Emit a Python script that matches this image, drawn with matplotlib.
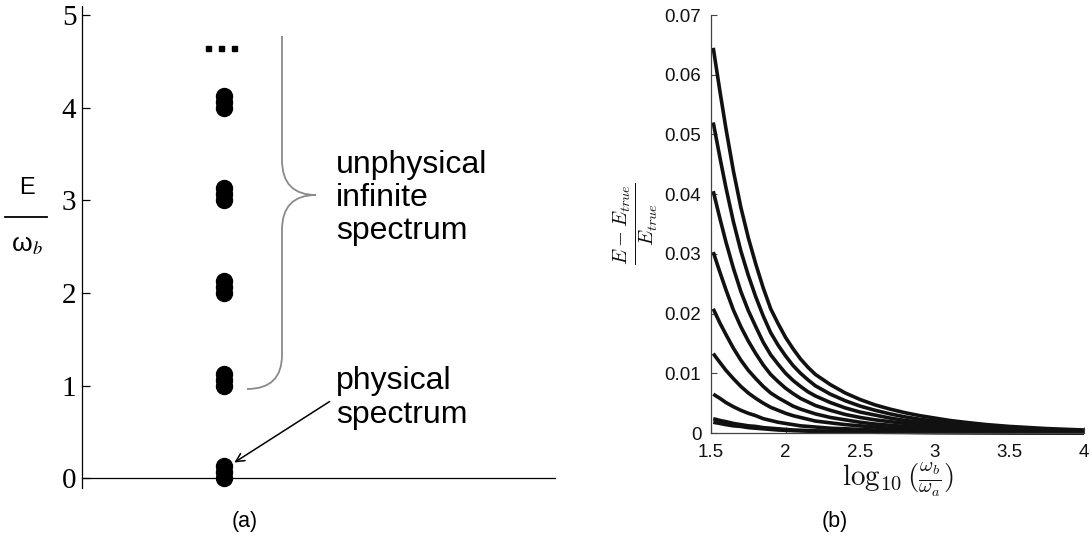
import matplotlib
matplotlib.use("Agg")
import matplotlib.pyplot as plt
from matplotlib.path import Path
from matplotlib.patches import PathPatch, FancyArrowPatch, Rectangle
from matplotlib.transforms import Affine2D

# ---------------- data ----------------
# panel (a): energy levels E/omega_b
level_groups = [0, 1, 2, 3, 4]
level_offsets = [0.0, 0.065, 0.13]
level_x = 0.3
left_yticks = [0, 1, 2, 3, 4, 5]

# panel (b): relative error curves vs log10(omega_b/omega_a)
xb = [1.515, 1.56, 1.6, 1.65, 1.7, 1.75, 1.8, 1.85, 1.9, 1.95, 2.0, 2.05, 2.1, 2.15, 2.2,
      2.3, 2.4, 2.5, 2.6, 2.7, 2.8, 2.9, 3.0, 3.1, 3.2, 3.35, 3.5, 3.75, 4.0]
err_1 = [0.0645, 0.0572, 0.0510, 0.0439, 0.0378, 0.0327, 0.0283, 0.0243, 0.0208, 0.0183, 0.0160,
         0.0141, 0.0124, 0.0110, 0.0098, 0.0081, 0.0067, 0.0056, 0.0047, 0.0040, 0.0034, 0.0029,
         0.0025, 0.0021, 0.0018, 0.0014, 0.0011, 0.00074, 0.0005]
err_2 = [0.0520, 0.0461, 0.0411, 0.0354, 0.0305, 0.0264, 0.0228, 0.0196, 0.0168, 0.0147, 0.0129,
         0.0113, 0.0100, 0.0089, 0.0079, 0.0065, 0.0054, 0.0045, 0.0038, 0.0032, 0.0027, 0.0023,
         0.0020, 0.0017, 0.0015, 0.0011, 0.0009, 0.0006, 0.0004]
err_3 = [0.0405, 0.0359, 0.0320, 0.0276, 0.0237, 0.0205, 0.0178, 0.0152, 0.0131, 0.0115, 0.0100,
         0.0088, 0.0078, 0.0069, 0.0062, 0.0051, 0.0042, 0.0035, 0.0030, 0.0025, 0.0021, 0.0018,
         0.0016, 0.0013, 0.0011, 0.0009, 0.0007, 0.0005, 0.0003]
err_4 = [0.0303, 0.0269, 0.0240, 0.0206, 0.0178, 0.0154, 0.0133, 0.0114, 0.0098, 0.0086, 0.0075,
         0.0066, 0.0058, 0.0052, 0.0046, 0.0038, 0.0031, 0.0026, 0.0022, 0.0019, 0.0016, 0.0014,
         0.0012, 0.0010, 0.0008, 0.0007, 0.0005, 0.00035, 0.00024]
err_5 = [0.0208, 0.0184, 0.0165, 0.0142, 0.0122, 0.0105, 0.0091, 0.0078, 0.0067, 0.0059, 0.0052,
         0.0045, 0.0040, 0.0036, 0.0032, 0.0026, 0.0022, 0.0018, 0.0015, 0.0013, 0.0011, 0.0009,
         0.0008, 0.0007, 0.0006, 0.00045, 0.00036, 0.00024, 0.00016]
err_6 = [0.0133, 0.0118, 0.0105, 0.0091, 0.0078, 0.0067, 0.0058, 0.0050, 0.0043, 0.0038, 0.0033,
         0.0029, 0.0026, 0.0023, 0.0020, 0.0017, 0.0014, 0.0012, 0.0010, 0.0008, 0.0007, 0.0006,
         0.0005, 0.00043, 0.00037, 0.00029, 0.00023, 0.00015, 0.0001]
err_7 = [0.0065, 0.0058, 0.0051, 0.0044, 0.0038, 0.0033, 0.0029, 0.0024, 0.0021, 0.0018, 0.0016,
         0.0014, 0.0012, 0.0011, 0.0010, 0.0008, 0.0007, 0.0006, 0.0005, 0.0004, 0.00034, 0.00029,
         0.00025, 0.00021, 0.00018, 0.00014, 0.00011, 0.000075, 0.00005]
err_8 = [0.0024, 0.0021, 0.0019, 0.0016, 0.0014, 0.0012, 0.0011, 0.0009, 0.0008, 0.0007, 0.0006,
         0.0005, 0.00046, 0.00041, 0.00036, 0.0003, 0.00025, 0.00021, 0.00018, 0.00015, 0.00013,
         0.00011, 0.00009, 0.00008, 0.00007, 0.00005, 0.00004, 0.00003, 0.00002]
err_9 = [0.0018, 0.0016, 0.0014, 0.0012, 0.0011, 0.0009, 0.0008, 0.0007, 0.0006, 0.0005, 0.00045,
         0.00039, 0.00035, 0.00031, 0.00027, 0.00023, 0.00019, 0.00016, 0.00013, 0.00011, 0.0001,
         0.00008, 0.00007, 0.00006, 0.00005, 0.00004, 0.00003, 0.00002, 0.00001]
curves = [err_1, err_2, err_3, err_4, err_5, err_6, err_7, err_8, err_9]
right_xticks = [1.5, 2, 2.5, 3, 3.5, 4]
right_xticklabels = ["1.5", "2", "2.5", "3", "3.5", "4"]
right_yticks = [0, 0.01, 0.02, 0.03, 0.04, 0.05, 0.06, 0.07]
right_yticklabels = ["0", "0.01", "0.02", "0.03", "0.04", "0.05", "0.06", "0.07"]

W, H = 1090, 540
fig = plt.figure(figsize=(W / 100, H / 100), dpi=100)
pix = Affine2D().scale(1 / W, -1 / H).translate(0, 1) + fig.transFigure

def P(x, y):
    return (x / W, 1 - y / H)

# ---------------- panel (a) ----------------
axa = fig.add_axes([82 / W, (H - 487.6) / H, 473 / W, (487.6 - 5.7) / H])
axa.set_xlim(0, 1)
axa.set_ylim(-0.1, 5.1)
for s in ["top", "right"]:
    axa.spines[s].set_visible(False)
axa.spines["bottom"].set_position(("data", 0))
axa.spines["left"].set_linewidth(0.9)
axa.spines["bottom"].set_linewidth(0.9)
axa.set_xticks([])
axa.set_yticks(left_yticks)
axa.set_yticklabels([str(t) for t in left_yticks], family="Liberation Serif", fontsize=21)
axa.tick_params(axis="y", direction="in", length=6, width=0.9, pad=4)

ys = [g + o for g in level_groups for o in level_offsets]
axa.plot([level_x] * len(ys), ys, "o", ms=11.5, color="black", zorder=5, clip_on=False)

# ellipsis
for px in [208.5, 221, 234.5]:
    fig.patches.append(Rectangle((px - 2.5, 45.5), 5, 5, transform=pix, color="black"))

# brace
verts = [(282, 36), (282, 160), (282, 195), (316, 195), (282, 195), (282, 230),
         (282, 355), (282, 389), (247, 389)]
codes = [Path.MOVETO, Path.LINETO, Path.CURVE3, Path.CURVE3, Path.CURVE3, Path.CURVE3,
         Path.LINETO, Path.CURVE3, Path.CURVE3]
fig.patches.append(PathPatch(Path(verts, codes), transform=pix, fill=False,
                             edgecolor="#8a8a8a", lw=1.3))

fig.text(*P(336, 198), "unphysical\ninfinite\nspectrum", family="Liberation Sans",
         fontsize=23, va="center", ha="left", linespacing=1.15)
fig.text(*P(336, 398), "physical\nspectrum", family="Liberation Sans",
         fontsize=23, va="center", ha="left", linespacing=1.15)

arr = FancyArrowPatch(posA=(332, 400), posB=(232, 464), transform=pix,
                      arrowstyle="->,head_length=6,head_width=3",
                      color="black", lw=1.1, mutation_scale=1)
fig.patches.append(arr)

# y label E / omega_b
fig.text(*P(27, 188), "E", family="Liberation Sans", fontsize=17, ha="center", va="center")
fig.lines.append(plt.Line2D([5, 47], [217, 217], transform=pix, color="black", lw=1.3))
fig.text(*P(27, 245), "ω$_b$", family="Liberation Sans", fontsize=19, ha="center",
         va="center", math_fontfamily="stix")

fig.text(*P(245, 522), "(a)", family="Liberation Sans", fontsize=15.5, ha="center", va="center")

# ---------------- panel (b) ----------------
axb = fig.add_axes([711 / W, (H - 433) / H, 373 / W, 418 / H])
axb.set_xlim(1.5, 4.0)
axb.set_ylim(0, 0.07)
for s in ["top", "right"]:
    axb.spines[s].set_visible(False)
for s in ["left", "bottom"]:
    axb.spines[s].set_color("#444444")
    axb.spines[s].set_linewidth(0.9)
for c in curves:
    axb.plot(xb, c, color="#111111", lw=2.6, solid_capstyle="butt",
             solid_joinstyle="round", clip_on=False)
axb.set_xticks(right_xticks)
axb.set_xticklabels(right_xticklabels)
axb.set_yticks(right_yticks)
axb.set_yticklabels(right_yticklabels)
axb.tick_params(direction="in", length=4, width=0.8, colors="#444444", labelcolor="#111111",
                labelsize=13.5)
axb.tick_params(axis="y", pad=7)
axb.tick_params(axis="x", pad=8)
for lab in axb.get_xticklabels() + axb.get_yticklabels():
    lab.set_family("Liberation Sans")

axb.set_ylabel(r"$\frac{E-E_{true}}{E_{true}}$", fontsize=21, math_fontfamily="cm",
               labelpad=3, color="#111111")
axb.set_xlabel(r"$\log_{10}(\frac{\omega_b}{\omega_a})$", fontsize=21, math_fontfamily="cm",
               labelpad=0, color="#111111")

fig.text(*P(835, 522), "(b)", family="Liberation Sans", fontsize=15.5, ha="center", va="center")

fig.savefig("out.png", dpi=100)
